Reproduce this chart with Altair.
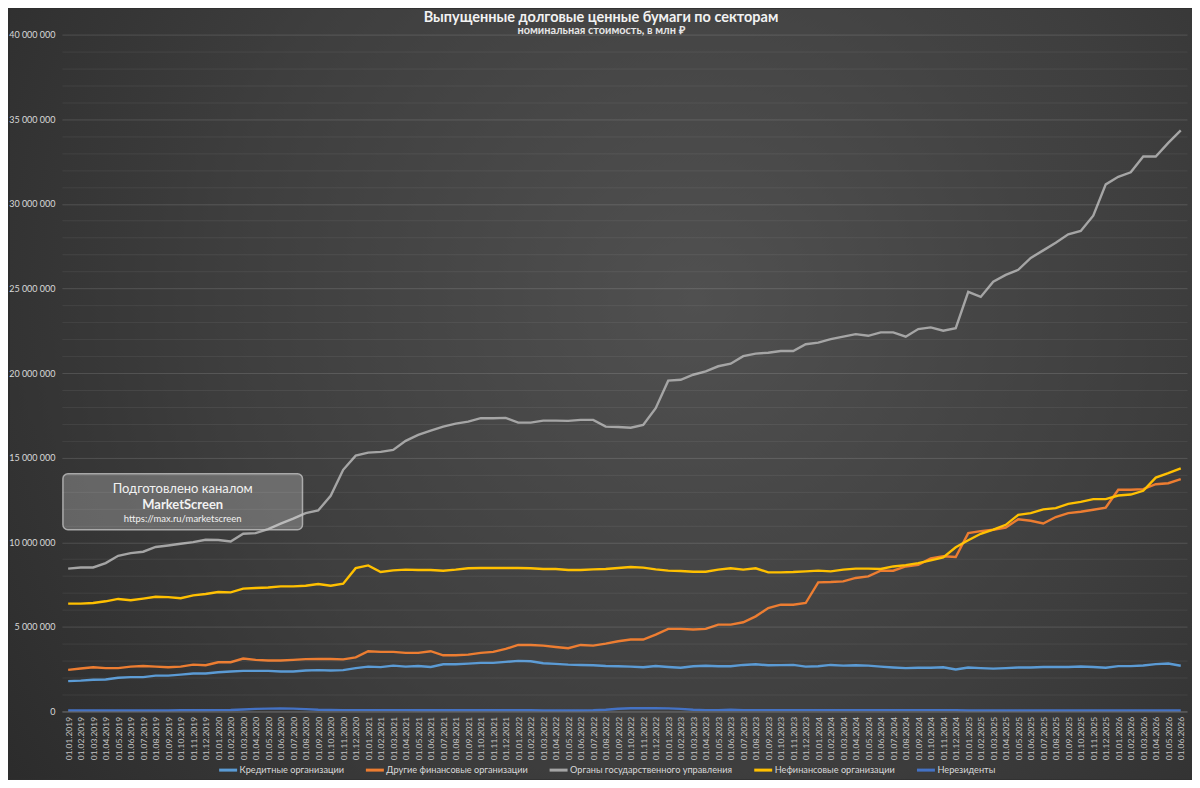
import altair as alt
import pandas as pd

# monthly dates, 01.01.2019 .. 01.06.2026
months = [f"01.{m:02d}.{y}" for y in range(2019, 2027) for m in range(1, 13)][:90]

# values in millions of "млн ₽" (i.e. 34.34 -> 34 340 000)
credit = [
    1.79, 1.82, 1.87, 1.89, 1.99, 2.03, 2.03, 2.12, 2.12, 2.18, 2.24, 2.24,
    2.32, 2.36, 2.40, 2.40, 2.40, 2.36, 2.36, 2.42, 2.44, 2.42, 2.44, 2.56,
    2.65, 2.62, 2.71, 2.65, 2.69, 2.63, 2.79, 2.79, 2.83, 2.87, 2.87, 2.93,
    2.99, 2.97, 2.85, 2.81, 2.77, 2.75, 2.73, 2.69, 2.67, 2.65, 2.61, 2.69,
    2.63, 2.58, 2.67, 2.70, 2.67, 2.67, 2.75, 2.79, 2.73, 2.74, 2.75, 2.65,
    2.67, 2.75, 2.71, 2.73, 2.71, 2.65, 2.60, 2.56, 2.58, 2.58, 2.61, 2.48,
    2.60, 2.56, 2.53, 2.56, 2.60, 2.60, 2.63, 2.63, 2.63, 2.66, 2.63, 2.58,
    2.68, 2.68, 2.72, 2.80, 2.83, 2.70,
]
other_fin = [
    2.46, 2.54, 2.61, 2.56, 2.56, 2.65, 2.69, 2.65, 2.61, 2.65, 2.77, 2.73,
    2.91, 2.91, 3.13, 3.05, 3.01, 3.01, 3.05, 3.09, 3.10, 3.10, 3.08, 3.20,
    3.56, 3.52, 3.52, 3.46, 3.46, 3.56, 3.32, 3.32, 3.36, 3.46, 3.52, 3.70,
    3.93, 3.93, 3.89, 3.81, 3.74, 3.93, 3.89, 4.01, 4.15, 4.25, 4.25, 4.54,
    4.88, 4.88, 4.84, 4.88, 5.13, 5.13, 5.27, 5.62, 6.11, 6.31, 6.31, 6.41,
    7.63, 7.65, 7.69, 7.89, 7.98, 8.32, 8.32, 8.57, 8.67, 9.05, 9.17, 9.13,
    10.54, 10.66, 10.74, 10.87, 11.36, 11.27, 11.11, 11.49, 11.72, 11.80, 11.92, 12.05,
    13.10, 13.10, 13.14, 13.43, 13.49, 13.73,
]
government = [
    8.44, 8.51, 8.51, 8.77, 9.20, 9.36, 9.44, 9.72, 9.81, 9.91, 10.01, 10.15,
    10.13, 10.05, 10.50, 10.54, 10.78, 11.10, 11.40, 11.72, 11.88, 12.74, 14.28, 15.12,
    15.30, 15.34, 15.46, 15.99, 16.34, 16.60, 16.83, 17.01, 17.13, 17.33, 17.33, 17.35,
    17.07, 17.07, 17.19, 17.19, 17.17, 17.23, 17.23, 16.83, 16.81, 16.77, 16.93, 17.92,
    19.55, 19.60, 19.90, 20.10, 20.40, 20.55, 21.00, 21.15, 21.20, 21.30, 21.30, 21.70,
    21.80, 22.00, 22.15, 22.30, 22.20, 22.40, 22.40, 22.15, 22.60, 22.70, 22.50, 22.65,
    24.80, 24.50, 25.40, 25.80, 26.10, 26.80, 27.25, 27.70, 28.20, 28.40, 29.30, 31.15,
    31.60, 31.86, 32.80, 32.80, 33.60, 34.34,
]
nonfin = [
    6.37, 6.37, 6.41, 6.51, 6.65, 6.57, 6.67, 6.78, 6.76, 6.69, 6.86, 6.94,
    7.06, 7.04, 7.26, 7.30, 7.33, 7.39, 7.39, 7.43, 7.53, 7.43, 7.55, 8.47,
    8.63, 8.24, 8.34, 8.38, 8.36, 8.36, 8.32, 8.38, 8.46, 8.48, 8.48, 8.48,
    8.48, 8.46, 8.42, 8.42, 8.36, 8.36, 8.40, 8.42, 8.48, 8.54, 8.50, 8.40,
    8.32, 8.30, 8.26, 8.26, 8.38, 8.46, 8.38, 8.46, 8.22, 8.22, 8.24, 8.28,
    8.32, 8.28, 8.38, 8.44, 8.44, 8.42, 8.57, 8.65, 8.77, 8.93, 9.10, 9.70,
    10.12, 10.50, 10.75, 11.03, 11.62, 11.72, 11.94, 12.02, 12.27, 12.39, 12.55, 12.55,
    12.76, 12.82, 13.04, 13.82, 14.08, 14.37,
]
nonres = [
    0.06, 0.06, 0.06, 0.06, 0.06, 0.06, 0.06, 0.06, 0.06, 0.07, 0.07, 0.07,
    0.08, 0.09, 0.12, 0.15, 0.17, 0.18, 0.17, 0.14, 0.10, 0.09, 0.08, 0.08,
    0.08, 0.08, 0.08, 0.08, 0.07, 0.07, 0.07, 0.07, 0.07, 0.07, 0.07, 0.07,
    0.07, 0.07, 0.06, 0.06, 0.06, 0.06, 0.07, 0.10, 0.16, 0.19, 0.20, 0.19,
    0.18, 0.15, 0.10, 0.08, 0.08, 0.10, 0.08, 0.08, 0.08, 0.08, 0.08, 0.08,
    0.08, 0.08, 0.08, 0.08, 0.08, 0.08, 0.08, 0.08, 0.08, 0.08, 0.08, 0.08,
    0.06, 0.06, 0.06, 0.06, 0.06, 0.06, 0.06, 0.06, 0.06, 0.06, 0.06, 0.06,
    0.06, 0.06, 0.06, 0.06, 0.06, 0.06,
]

series = [
    "Кредитные организации",
    "Другие финансовые организации",
    "Органы государственного управления",
    "Нефинансовые организации",
    "Нерезиденты",
]
colors = ["#5B9BD5", "#ED7D31", "#A5A5A5", "#FFC000", "#4472C4"]

rows = []
for name, vals in zip(series, [credit, other_fin, government, nonfin, nonres]):
    for d, v in zip(months, vals):
        rows.append({"date": d, "series": name, "value": v * 1_000_000})
df = pd.DataFrame(rows)

W, H = 1127, 678
FONT = "Lato"
one = pd.DataFrame({"k": [0]})

bg = alt.Chart(one).mark_rect(
    fill=alt.Gradient(
        gradient="radial",
        stops=[
            alt.GradientStop(color="#505050", offset=0),
            alt.GradientStop(color="#3e3e3e", offset=0.55),
            alt.GradientStop(color="#2b2b2b", offset=1),
        ],
        x1=0.58, y1=0.42, r1=0, x2=0.58, y2=0.42, r2=0.72,
    )
).encode(
    x=alt.value(-52), x2=alt.value(W + 5),
    y=alt.value(-26), y2=alt.value(H + 68),
)

y_ticks = list(range(0, 40_000_001, 1_000_000))

lines = alt.Chart(df).mark_line(strokeWidth=2.4).encode(
    x=alt.X(
        "date:O", sort=None, title=None,
        scale=alt.Scale(type="point", padding=0.5),
        axis=alt.Axis(
            labelAngle=-90, labelFont=FONT, labelFontSize=8.5, labelColor="#c4c4c4",
            labelOverlap=False, labelPadding=5, ticks=False,
            domainColor="#666666", grid=False, zindex=1,
        ),
    ),
    y=alt.Y(
        "value:Q", title=None,
        scale=alt.Scale(domain=[0, 40_000_000], nice=False),
        axis=alt.Axis(
            values=y_ticks, ticks=False, domain=False, zindex=1,
            labelFont=FONT, labelFontSize=9, labelColor="#d9d9d9", labelPadding=7,
            labelExpr="datum.value % 5000000 === 0 ? replace(format(datum.value, ',d'), regexp(',', 'g'), ' ') : ''",
            gridColor="#ffffff",
            gridOpacity={"condition": {"test": "datum.value % 5000000 === 0", "value": 0.14}, "value": 0.07},
        ),
    ),
    color=alt.Color(
        "series:N", sort=series,
        scale=alt.Scale(domain=series, range=colors),
        legend=alt.Legend(
            title=None, orient="none", direction="horizontal",
            legendX=156, legendY=726, zindex=1,
            symbolType="stroke", symbolSize=324, symbolStrokeWidth=3,
            labelFont=FONT, labelFontSize=9.2, labelColor="#d9d9d9",
            labelOffset=1, columnPadding=15, labelLimit=400,
        ),
    ),
)

box = alt.Chart(one).mark_rect(
    fill="#ffffff", fillOpacity=0.24, stroke="#c0c0c0", strokeOpacity=0.8,
    strokeWidth=1.5, cornerRadius=5,
).encode(x=alt.value(1), x2=alt.value(241), y=alt.value(440), y2=alt.value(496))

wm1 = alt.Chart(one).mark_text(
    text="Подготовлено каналом", font=FONT, fontSize=13, color="#f2f2f2", baseline="middle"
).encode(x=alt.value(121), y=alt.value(455))
wm2 = alt.Chart(one).mark_text(
    text="MarketScreen", font=FONT, fontSize=13, fontWeight="bold", color="#f2f2f2", baseline="middle"
).encode(x=alt.value(121), y=alt.value(471))
wm3 = alt.Chart(one).mark_text(
    text="https://max.ru/marketscreen", font=FONT, fontSize=9.5, color="#f2f2f2", baseline="middle"
).encode(x=alt.value(121), y=alt.value(485))

title = alt.Chart(one).mark_text(
    text="Выпущенные долговые ценные бумаги по секторам",
    font=FONT, fontSize=14.5, fontWeight="bold", color="#f2f2f2", baseline="middle",
).encode(x=alt.value(540), y=alt.value(-17))
subtitle = alt.Chart(one).mark_text(
    text="номинальная стоимость, в млн ₽",
    font=FONT, fontSize=11, fontWeight="bold", color="#e6e6e6", baseline="middle",
).encode(x=alt.value(540), y=alt.value(-4))

chart = alt.layer(bg, lines, box, wm1, wm2, wm3, title, subtitle).properties(
    width=W, height=H, padding=0, background="#2e2e2e",
).configure_view(stroke=None)

chart.save("out.html", embed_options={"renderer": "svg", "actions": False})
